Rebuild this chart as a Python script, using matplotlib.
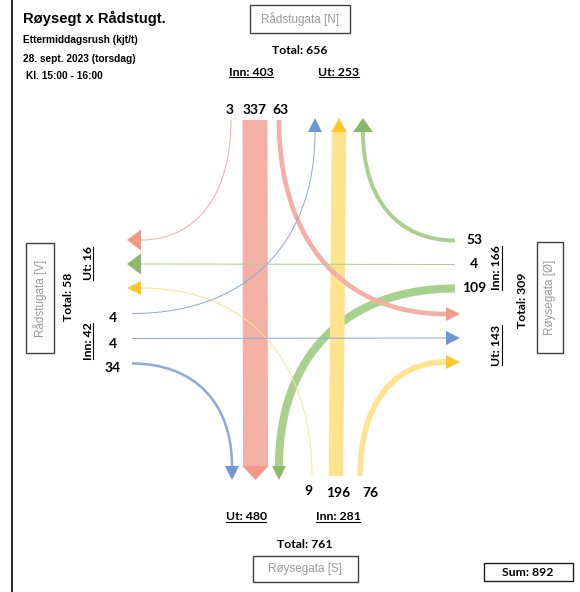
import numpy as np
import matplotlib
matplotlib.use('Agg')
import matplotlib.pyplot as plt
from matplotlib.path import Path
from matplotlib.patches import PathPatch, Polygon, Rectangle

# turning movements, Ettermiddagsrush 15:00-16:00
origin = ['N', 'N', 'N', 'Ø', 'Ø', 'Ø', 'S', 'S', 'S', 'V', 'V', 'V']
dest = ['V', 'S', 'Ø', 'N', 'V', 'S', 'V', 'N', 'Ø', 'N', 'Ø', 'S']
volume = [3, 337, 63, 53, 4, 109, 9, 196, 76, 4, 4, 34]

arm_names = {'N': 'Rådstugata [N]', 'S': 'Røysegata [S]', 'V': 'Rådstugata [V]', 'Ø': 'Røysegata [Ø]'}
title = 'Røysegt x Rådstugt.'
subtitle = ['Ettermiddagsrush (kjt/t)', '28. sept. 2023 (torsdag)', 'Kl. 15:00 - 16:00']

line_col = {'N': '#F5B0A6', 'Ø': '#A9D18E', 'S': '#FFE38F', 'V': '#8EA9DB'}
head_col = {'N': '#F4998A', 'Ø': '#8AB96B', 'S': '#FFC82A', 'V': '#6E95D6'}

FONT = 'Lato'
W, H = 580, 592
fig = plt.figure(figsize=(W / 100, H / 100), dpi=100)
ax = fig.add_axes([0, 0, 1, 1])
ax.set_xlim(0, W)
ax.set_ylim(H, 0)
ax.axis('off')

cx, cy = 297, 301.5
lane = 24
# order of lanes on each arm (in: left, straight, right ; out: from right, straight, left)
turn_of = {('N', 'V'): 0, ('N', 'S'): 1, ('N', 'Ø'): 2,
           ('Ø', 'N'): 0, ('Ø', 'V'): 1, ('Ø', 'S'): 2,
           ('S', 'V'): 0, ('S', 'N'): 1, ('S', 'Ø'): 2,
           ('V', 'N'): 0, ('V', 'Ø'): 1, ('V', 'S'): 2}
in_edge = {'N': 120, 'S': 476, 'Ø': 455, 'V': 132}
out_tip = {'N': 118, 'S': 480, 'Ø': 460, 'V': 127}
head_len = 14


def in_point(o, k):
    if o == 'N':
        return (cx - 66 + k * lane, in_edge['N'])
    if o == 'S':
        return (cx + 15 + k * 24, in_edge['S'])
    if o == 'Ø':
        return (in_edge['Ø'], cy - 61 + k * lane)
    return (in_edge['V'], cy + 12 + k * 25)


def out_lane(d, o):
    # position of the out lane on arm d for traffic coming from o
    order = {'N': ['V', 'S', 'Ø'], 'S': ['V', 'N', 'Ø'], 'Ø': ['N', 'V', 'S'], 'V': ['N', 'Ø', 'S']}
    k = order[d].index(o)
    if d == 'N':
        return cx + 18 + k * lane
    if d == 'S':
        return cx - 65 + k * 23.5
    if d == 'Ø':
        return cy + 12.5 + k * lane
    return cy - 61.5 + k * lane


def px_to_pt(px):
    return px * 72 / 100


for o, d, v in zip(origin, dest, volume):
    k = turn_of[(o, d)]
    x0, y0 = in_point(o, k)
    lw = max(v * 0.074, 1.0)
    pos = out_lane(d, o)
    if d == 'N':
        x2, y2 = pos, out_tip['N'] + head_len
    elif d == 'S':
        x2, y2 = pos, out_tip['S'] - head_len
    elif d == 'Ø':
        x2, y2 = out_tip['Ø'] - head_len, pos
    else:
        x2, y2 = out_tip['V'] + head_len, pos
    if o in 'NS' and d in 'ØV':
        ctrl = (x0, y2)
    elif o in 'ØV' and d in 'NS':
        ctrl = (x2, y0)
    else:
        ctrl = None
    if ctrl is None:
        path = Path([(x0, y0), (x2, y2)], [Path.MOVETO, Path.LINETO])
    else:
        # cubic curve, a bit squarer than a quadratic one
        c1 = (x0 + 0.62 * (ctrl[0] - x0), y0 + 0.62 * (ctrl[1] - y0))
        c2 = (x2 + 0.62 * (ctrl[0] - x2), y2 + 0.62 * (ctrl[1] - y2))
        path = Path([(x0, y0), c1, c2, (x2, y2)],
                    [Path.MOVETO, Path.CURVE4, Path.CURVE4, Path.CURVE4])
    ax.add_patch(PathPatch(path, fill=False, edgecolor=line_col[o], lw=px_to_pt(lw),
                           capstyle='butt', joinstyle='round', zorder=2 if v > 100 else 3))
    half = max(7, lw / 2 + 0.5)
    if o == 'Ø' and d == 'N':
        half = 10
    if o in 'NØ' and d == 'V':
        half = 10.5
    if d == 'N':
        tri = [(x2 - half, y2), (x2 + half, y2), (x2, out_tip['N'])]
    elif d == 'S':
        tri = [(x2 - half, y2), (x2 + half, y2), (x2, out_tip['S'])]
    elif d == 'Ø':
        tri = [(x2, y2 - half), (x2, y2 + half), (out_tip['Ø'], y2)]
    else:
        tri = [(x2, y2 - half), (x2, y2 + half), (out_tip['V'], y2)]
    ax.add_patch(Polygon(tri, closed=True, facecolor=head_col[o], edgecolor='none', zorder=4))

    # count labels at the entry of each arm
    if o == 'N':
        ax.text(x0 - 1 + k, 110, str(v), ha='center', va='center', fontsize=10,
                fontweight='bold', family=FONT)
    elif o == 'S':
        ax.text(x0 + [-4, 2, 10][k], 491 if k == 0 else 493, str(v), ha='center',
                va='center', fontsize=10, fontweight='bold', family=FONT)
    elif o == 'Ø':
        ax.text(474, y0, str(v), ha='center', va='center', fontsize=10,
                fontweight='bold', family=FONT)
    else:
        ax.text(113, y0 + 5, str(v), ha='center', va='center', fontsize=10,
                fontweight='bold', family=FONT)

inn = {a: sum(v for o, v in zip(origin, volume) if o == a) for a in 'NØSV'}
ut = {a: sum(v for d, v in zip(dest, volume) if d == a) for a in 'NØSV'}

fig.canvas.draw()
renderer = fig.canvas.get_renderer()
underlined = []


def label(x, y, s, rot=0, under=False, size=8.8):
    t = ax.text(x, y, s, ha='center', va='center', rotation=rot, fontsize=size,
                fontweight='bold', family=FONT)
    if under:
        underlined.append((t, rot))
    return t


def name_box(x0, y0, w, h, s, rot=0):
    ax.add_patch(Rectangle((x0, y0), w, h, fill=False, edgecolor='#404040', lw=1.0, zorder=5))
    ax.text(x0 + w / 2, y0 + h / 2, s, ha='center', va='center', rotation=rot,
            fontsize=8.4, color='#9A9A9A', family='Liberation Sans')


# north
name_box(250, 5, 100, 28, arm_names['N'])
label(300, 50, 'Total: %d' % (inn['N'] + ut['N']))
label(251, 72, 'Inn: %d' % inn['N'], under=True)
label(339, 72, 'Ut: %d' % ut['N'], under=True)
# south
name_box(253, 556, 105, 26, arm_names['S'])
label(305, 545, 'Total: %d' % (inn['S'] + ut['S']))
label(246, 517, 'Ut: %d' % ut['S'], under=True)
label(338, 517, 'Inn: %d' % inn['S'], under=True)
# west
name_box(26, 243, 28, 110, arm_names['V'], rot=90)
label(68, 297, 'Total: %d' % (inn['V'] + ut['V']), rot=90)
label(88, 263, 'Ut: %d' % ut['V'], rot=90, under=True)
label(88, 341, 'Inn: %d' % inn['V'], rot=90, under=True)
# east
name_box(537, 242, 26, 111, arm_names['Ø'], rot=90)
label(522, 300, 'Total: %d' % (inn['Ø'] + ut['Ø']), rot=90)
label(497, 268, 'Inn: %d' % inn['Ø'], rot=90, under=True)
label(497, 345, 'Ut: %d' % ut['Ø'], rot=90, under=True)

# sum box
ax.add_patch(Rectangle((484, 563), 89, 18, fill=False, edgecolor='#202020', lw=1.0))
label(528, 572, 'Sum: %d' % sum(volume))

# title block
ax.text(23, 18, title, ha='left', va='center', fontsize=10.6, fontweight='bold',
        family='Liberation Sans')
ax.text(23, 40, subtitle[0], ha='left', va='center', fontsize=7.3, fontweight='bold',
        family='Liberation Sans')
ax.text(23, 59, subtitle[1], ha='left', va='center', fontsize=7.3, fontweight='bold',
        family='Liberation Sans')
ax.text(26, 76, subtitle[2], ha='left', va='center', fontsize=7.3, fontweight='bold',
        family='Liberation Sans')

# frame line at left
ax.plot([12, 12], [0, H], color='black', lw=1.2)

fig.canvas.draw()
inv = ax.transData.inverted()
for t, rot in underlined:
    bb = t.get_window_extent(renderer)
    (ax0, ay0), (ax1, ay1) = inv.transform([[bb.x0, bb.y0], [bb.x1, bb.y1]])
    if rot == 0:
        yb = max(ay0, ay1) - 0.5
        ax.plot([ax0 + 0.5, ax1 - 0.5], [yb, yb], color='black', lw=0.8)
    else:
        xb = max(ax0, ax1) - 0.5
        ax.plot([xb, xb], [ay0 - 0.5, ay1 + 0.5], color='black', lw=0.8)

fig.savefig('out.png', dpi=100)
